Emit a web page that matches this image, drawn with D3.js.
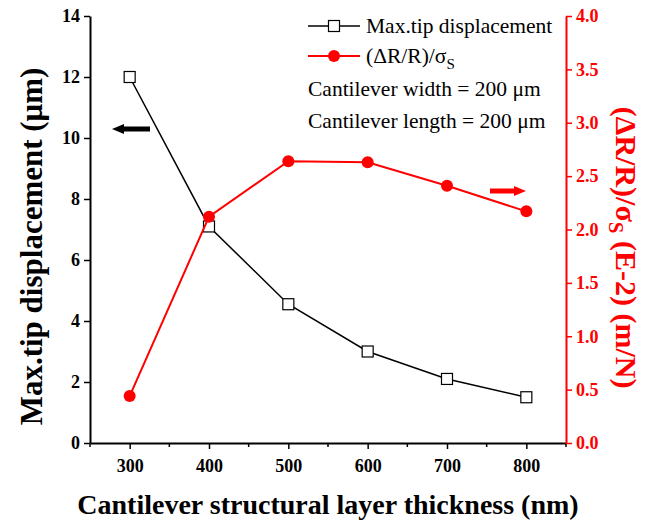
<!DOCTYPE html>
<html>
<head>
<meta charset="utf-8">
<script src="https://cdn.jsdelivr.net/npm/d3@7"></script>
<style>
body { margin: 0; background: #fff; }
text { font-family: "Liberation Serif", "Times New Roman", serif; }
</style>
</head>
<body>
<svg width="656" height="529"></svg>
<script>
var thickness = [300, 400, 500, 600, 700, 800];
var displacement = [12.0, 7.1, 4.55, 3.0, 2.1, 1.5];
var sensitivity = [0.44, 2.12, 2.64, 2.63, 2.41, 2.17];
var xTicks = [300, 400, 500, 600, 700, 800];
var xMinor = [250, 350, 450, 550, 650, 750, 850];
var yLeftTicks = [0, 2, 4, 6, 8, 10, 12, 14];
var yRightTicks = [0, 0.5, 1.0, 1.5, 2.0, 2.5, 3.0, 3.5, 4.0];

var svg = d3.select("svg"),
    mLeft = 90, mRight = 566, mTop = 16, mBottom = 443;

var x = d3.scaleLinear().domain([250, 850]).range([mLeft, mRight]);
var yL = d3.scaleLinear().domain([0, 14]).range([mBottom, mTop]);
var yR = d3.scaleLinear().domain([0, 4]).range([mBottom, mTop]);

// bottom axis
var gx = svg.append("g").attr("transform", "translate(0," + mBottom + ")")
    .call(d3.axisBottom(x).tickValues(xTicks).tickSize(6).tickSizeOuter(0).tickPadding(10));
svg.append("g").attr("transform", "translate(0," + mBottom + ")")
    .selectAll("line").data(xMinor).enter().append("line")
    .attr("x1", d => x(d)).attr("x2", d => x(d))
    .attr("y1", 0).attr("y2", 4)
    .attr("stroke", "black").attr("stroke-width", 1.5);

// left axis
var gl = svg.append("g").attr("transform", "translate(" + mLeft + ",0)")
    .call(d3.axisLeft(yL).tickValues(yLeftTicks).tickSize(6).tickSizeOuter(0).tickPadding(4));

// right axis
var gr = svg.append("g").attr("transform", "translate(" + mRight + ",0)")
    .call(d3.axisRight(yR).tickValues(yRightTicks).tickFormat(d3.format(".1f")).tickSize(6).tickSizeOuter(0).tickPadding(4));

[gx, gl].forEach(function(g) {
  g.select(".domain").attr("stroke", "black").attr("stroke-width", 2);
  g.selectAll(".tick line").attr("stroke", "black").attr("stroke-width", 1.5);
  g.selectAll(".tick text").attr("fill", "black").attr("font-size", 18).attr("font-weight", "bold")
    .style("font-family", "'Liberation Serif', serif");
});
gr.select(".domain").attr("stroke", "red").attr("stroke-width", 2);
gr.selectAll(".tick line").attr("stroke", "red").attr("stroke-width", 1.5);
gr.selectAll(".tick text").attr("fill", "red").attr("font-size", 18).attr("font-weight", "bold")
  .style("font-family", "'Liberation Serif', serif");

// black series
var lineL = d3.line().x((d, i) => x(thickness[i])).y(d => yL(d));
svg.append("path").datum(displacement)
    .attr("d", lineL).attr("fill", "none").attr("stroke", "black").attr("stroke-width", 1.5);
svg.append("g").selectAll("rect").data(displacement).enter().append("rect")
    .attr("x", (d, i) => x(thickness[i]) - 5.5)
    .attr("y", d => yL(d) - 5.5)
    .attr("width", 11).attr("height", 11)
    .attr("fill", "white").attr("stroke", "black").attr("stroke-width", 1.2);

// red series
var lineR = d3.line().x((d, i) => x(thickness[i])).y(d => yR(d));
svg.append("path").datum(sensitivity)
    .attr("d", lineR).attr("fill", "none").attr("stroke", "red").attr("stroke-width", 2);
svg.append("g").selectAll("circle").data(sensitivity).enter().append("circle")
    .attr("cx", (d, i) => x(thickness[i]))
    .attr("cy", d => yR(d))
    .attr("r", 6).attr("fill", "red");

// arrows
function arrow(x1, x2, y, color) {
  var dir = x2 > x1 ? 1 : -1;
  var hx = x2 - dir * 12;
  svg.append("line").attr("x1", x1).attr("x2", hx).attr("y1", y).attr("y2", y)
    .attr("stroke", color).attr("stroke-width", 5);
  svg.append("path")
    .attr("d", "M" + x2 + "," + y + "L" + hx + "," + (y - 5) + "L" + hx + "," + (y + 5) + "Z")
    .attr("fill", color);
}
arrow(150, 112, 129, "black");
arrow(490, 526, 191, "red");

// legend
var lg = svg.append("g");
lg.append("line").attr("x1", 308).attr("x2", 360).attr("y1", 26).attr("y2", 26)
  .attr("stroke", "black").attr("stroke-width", 1.5);
lg.append("rect").attr("x", 328.5).attr("y", 20.5).attr("width", 11).attr("height", 11)
  .attr("fill", "white").attr("stroke", "black").attr("stroke-width", 1.2);
lg.append("text").attr("x", 366).attr("y", 33).attr("font-size", 21.5).text("Max.tip displacement");

lg.append("line").attr("x1", 308).attr("x2", 360).attr("y1", 56).attr("y2", 56)
  .attr("stroke", "red").attr("stroke-width", 2);
lg.append("circle").attr("cx", 334).attr("cy", 56).attr("r", 6).attr("fill", "red");
var t2 = lg.append("text").attr("x", 366).attr("y", 63).attr("font-size", 21.5);
t2.append("tspan").text("(ΔR/R)/σ");
t2.append("tspan").attr("font-size", 15).attr("dy", 6).text("S");

lg.append("text").attr("x", 308).attr("y", 96).attr("font-size", 21.5).text("Cantilever width = 200 μm");
lg.append("text").attr("x", 308).attr("y", 128).attr("font-size", 21.5).text("Cantilever length = 200 μm");

// axis titles
svg.append("text")
  .attr("transform", "translate(42," + ((mTop + mBottom) / 2 + 17) + ") rotate(-90)")
  .attr("text-anchor", "middle").attr("font-size", 31).attr("font-weight", "bold")
  .text("Max.tip displacement (μm)");

var rt = svg.append("text")
  .attr("transform", "translate(616," + ((mTop + mBottom) / 2 + 18) + ") rotate(90)")
  .attr("text-anchor", "middle").attr("font-size", 30).attr("font-weight", "bold")
  .attr("fill", "red");
rt.append("tspan").text("(ΔR/R)/σ");
rt.append("tspan").attr("font-size", 21).attr("dy", 7).text("S");
rt.append("tspan").attr("dy", -7).text(" (E-2) (m/N)");

svg.append("text")
  .attr("x", 328).attr("y", 514)
  .attr("text-anchor", "middle").attr("font-size", 28).attr("font-weight", "bold")
  .text("Cantilever structural layer thickness (nm)");
</script>
</body>
</html>
